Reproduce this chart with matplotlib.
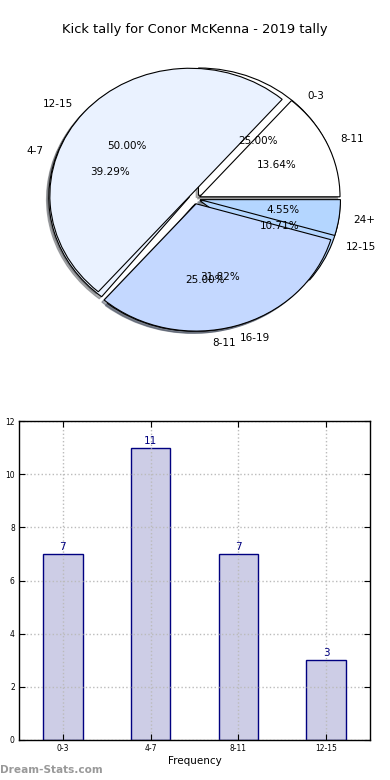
import matplotlib
matplotlib.use("Agg")
import matplotlib.pyplot as plt

# Data
pie_a_labels = ['0-3', '4-7', '8-11', '12-15']
pie_a_values = [7, 11, 7, 3]
pie_b_labels = ['8-11', '12-15', '16-19', '24+']
pie_b_values = [3, 11, 7, 1]
bar_labels = ['0-3', '4-7', '8-11', '12-15']
bar_values = [7, 11, 7, 3]

title = 'Kick tally for Conor McKenna - 2019 tally'
pie_colors = ['#ffffff', '#eaf2ff', '#c4d8ff', '#b4d6ff']

fig = plt.figure(figsize=(3.9, 7.8), dpi=100)

# Pie chart
ax1 = fig.add_axes([0.0487, 0.541, 0.9, 0.408])
wp = dict(edgecolor='black', linewidth=0.8)
tp = dict(fontsize=7.5, color='black')
sh = {'ox': -0.012, 'oy': -0.012, 'shade': 0.6}
ax1.pie(pie_a_values, labels=pie_a_labels, autopct='%1.2f%%', colors=pie_colors,
        explode=[0.04] * len(pie_a_values), shadow=sh, wedgeprops=wp, textprops=tp)
ax1.pie(pie_b_values, labels=pie_b_labels, autopct='%1.2f%%', colors=pie_colors,
        explode=[0.04] * len(pie_b_values), shadow=sh, wedgeprops=wp, textprops=tp)
ax1.set_aspect('auto')
ax1.set_xlim(-1.25, 1.25)
ax1.set_ylim(-1.25, 1.25)
ax1.set_title(title, fontsize=9.4, pad=5)

# Bar chart
ax2 = fig.add_axes([0.0487, 0.0513, 0.9, 0.4087])
x = list(range(len(bar_values)))
bars = ax2.bar(x, bar_values, width=0.45, color='#cdcde6', edgecolor='#000080',
               linewidth=1.0, zorder=2)
for xi, v in zip(x, bar_values):
    ax2.text(xi, v + 0.08, str(v), ha='center', va='bottom', color='#000080',
             fontsize=7.5, zorder=4)
ax2.set_xlim(-0.5, len(bar_values) - 0.5)
ax2.set_ylim(0, 12)
ax2.set_yticks(range(0, 13, 2))
ax2.set_xticks(x)
ax2.set_xticklabels(bar_labels)
ax2.tick_params(axis='both', labelsize=5.5, direction='in', top=True, right=True,
                length=4, width=0.8, pad=3)
ax2.grid(True, linestyle=':', color='#bbbbbb', linewidth=1.0, zorder=3)
ax2.set_axisbelow(False)
for s in ax2.spines.values():
    s.set_linewidth(1.0)
    s.set_zorder(5)
ax2.set_xlabel('Frequency', fontsize=7.5, labelpad=2)
ax2.set_ylabel('Total Kick Tally', fontsize=7.5)

fig.text(0.0, 0.013, 'Dream-Stats.com', fontsize=7.6, color='#999999',
         fontweight='bold', ha='left', va='center')

fig.savefig('out.png', dpi=100)
